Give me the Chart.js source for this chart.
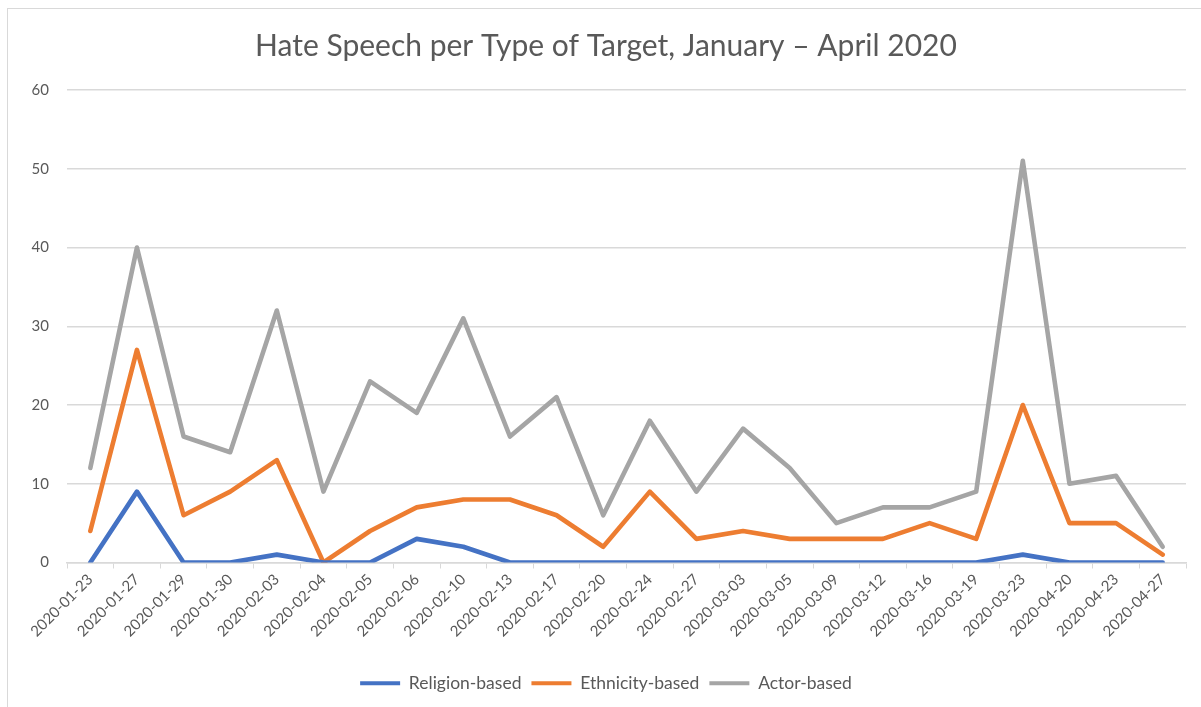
<!DOCTYPE html>
<html>
<head>
<meta charset="utf-8">
<script src="https://cdn.jsdelivr.net/npm/chart.js@4/dist/chart.umd.min.js"></script>
<style>
  html, body { margin: 0; padding: 0; background: #ffffff; }
  #wrap { position: absolute; left: 0; top: 0; width: 1201px; height: 707px; }
  #frame { position: absolute; left: 7px; top: 8px; width: 1200px; height: 705px; border: 1px solid #d9d9d9; box-sizing: border-box; }
  canvas { position: absolute; left: 0; top: 0; }
</style>
</head>
<body>
<div id="wrap">
  <div id="frame"></div>
  <canvas id="c" width="1201" height="707"></canvas>
</div>
<script>
const chartTitle = "Hate Speech per Type of Target, January \u2013 April 2020";
const categories = ["2020-01-23","2020-01-27","2020-01-29","2020-01-30","2020-02-03","2020-02-04","2020-02-05","2020-02-06","2020-02-10","2020-02-13","2020-02-17","2020-02-20","2020-02-24","2020-02-27","2020-03-03","2020-03-05","2020-03-09","2020-03-12","2020-03-16","2020-03-19","2020-03-23","2020-04-20","2020-04-23","2020-04-27"];
const religionBased  = [0, 9, 0, 0, 1, 0, 0, 3, 2, 0, 0, 0, 0, 0, 0, 0, 0, 0, 0, 0, 1, 0, 0, 0];
const ethnicityBased = [4, 27, 6, 9, 13, 0, 4, 7, 8, 8, 6, 2, 9, 3, 4, 3, 3, 3, 5, 3, 20, 5, 5, 1];
const actorBased     = [12, 40, 16, 14, 32, 9, 23, 19, 31, 16, 21, 6, 18, 9, 17, 12, 5, 7, 7, 9, 51, 10, 11, 2];
const yTicks = [0, 10, 20, 30, 40, 50, 60];

const FONT = "Lato, 'Open Sans', sans-serif";
const TXT = "#595959";
const GRID = "#d9d9d9";

function ds(label, data, color) {
  return { label, data, borderColor: color, backgroundColor: color, borderWidth: 4.6,
           pointRadius: 0, pointHoverRadius: 0, tension: 0, fill: false,
           borderJoinStyle: "round", borderCapStyle: "round" };
}

new Chart(document.getElementById("c"), {
  type: "line",
  data: {
    labels: categories,
    datasets: [
      ds("Religion-based", religionBased, "#4472c4"),
      ds("Ethnicity-based", ethnicityBased, "#ed7d31"),
      ds("Actor-based", actorBased, "#a5a5a5")
    ]
  },
  options: {
    responsive: false,
    animation: false,
    devicePixelRatio: 1,
    layout: { padding: { left: 26, right: 15, top: 0, bottom: 5 } },
    plugins: {
      tooltip: { enabled: false },
      title: {
        display: true, text: chartTitle, color: TXT,
        font: { family: FONT, size: 30, weight: "normal" },
        padding: { top: 28, bottom: 26 }
      },
      legend: {
        position: "bottom",
        labels: {
          color: TXT, font: { family: FONT, size: 17.5 },
          boxWidth: 40, boxHeight: 4, padding: 10,
          generateLabels(chart) {
            return chart.data.datasets.map((d, i) => ({
              text: d.label, fillStyle: d.borderColor, strokeStyle: d.borderColor,
              lineWidth: 0, hidden: false, datasetIndex: i, fontColor: TXT
            }));
          }
        }
      }
    },
    scales: {
      x: {
        offset: true,
        grid: { offset: true, drawOnChartArea: false, drawTicks: true, tickLength: 6, color: GRID, lineWidth: 1 },
        border: { display: true, color: GRID, width: 1.5 },
        ticks: { color: TXT, font: { family: FONT, size: 15 }, minRotation: 45, maxRotation: 45, autoSkip: false, padding: 2 },
        afterFit(scale) { scale.height = 102; }
      },
      y: {
        min: 0, max: 60,
        afterBuildTicks(scale) { scale.ticks = yTicks.map(v => ({ value: v })); },
        grid: { color: GRID, lineWidth: 1.5, drawTicks: false },
        border: { display: false },
        ticks: { color: TXT, font: { family: FONT, size: 15 }, padding: 18 },
        afterFit(scale) { scale.width = 41; }
      }
    }
  }
});
</script>
</body>
</html>
